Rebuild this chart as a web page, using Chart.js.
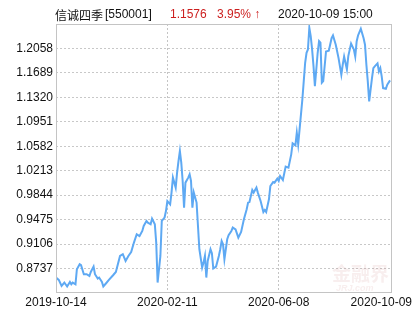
<!DOCTYPE html>
<html>
<head>
<meta charset="utf-8">
<script src="https://cdn.jsdelivr.net/npm/chart.js@4.4.0/dist/chart.umd.min.js"></script>
<style>
  html, body { margin: 0; padding: 0; background: #fff; }
  canvas { display: block; }
</style>
</head>
<body>
<canvas id="chart" width="415" height="330"></canvas>
<script>
// trading-day index since 2019-10-14 and unit NAV
const dayIndex = [0, 2, 4, 6, 8, 10, 11, 12, 14, 15, 17, 18, 20, 22, 24, 25, 27, 28, 30, 31,
  33, 34, 36, 38, 41, 43, 46, 48, 50, 52, 54, 56, 58, 60, 62, 63, 65, 66, 68, 69,
  71, 72, 73, 75, 76, 78, 79, 80, 82, 83, 84, 86, 87, 88, 89, 90, 91, 92, 93, 95,
  96, 97, 98, 99, 101, 102, 103, 105, 106, 107, 108, 109, 111, 112, 113, 115, 117, 118, 119, 120,
  121, 123, 124, 126, 127, 129, 131, 133, 135, 137, 138, 139, 141, 142, 144, 145, 147, 149, 150, 151,
  153, 154, 156, 157, 159, 160, 161, 163, 164, 165, 167, 169, 170, 172, 173, 174, 175, 177, 178, 179,
  180, 181, 182, 183, 184, 185, 186, 187, 188, 189, 190, 191, 192, 194, 196, 198, 199, 201, 203, 205,
  206, 207, 209, 210, 212, 214, 215, 216, 217, 219, 221, 222, 223, 224, 225, 227, 228, 229, 231, 232,
  233, 234, 235, 237, 238, 240];
const navValues = [0.8601, 0.8565, 0.8475, 0.8526, 0.8466, 0.8535, 0.8500, 0.8526, 0.8500, 0.8726,
  0.8802, 0.8787, 0.8651, 0.8651, 0.8625, 0.8686, 0.8767, 0.8651, 0.8586, 0.8601,
  0.8535, 0.8466, 0.8515, 0.8565, 0.8636, 0.8686, 0.8927, 0.8953, 0.8852, 0.8927,
  0.8987, 0.9129, 0.9254, 0.9228, 0.9304, 0.9379, 0.9455, 0.9430, 0.9405, 0.9491,
  0.9405, 0.9129, 0.8526, 0.8927, 0.9455, 0.9506, 0.9605, 0.9756, 0.9706, 0.9883,
  1.0109, 0.9958, 1.0184, 1.0359, 1.0510, 1.0335, 1.0058, 0.9657, 1.0033, 1.0109,
  1.0159, 1.0058, 0.9657, 0.9883, 0.9732, 0.9379, 0.9028, 0.8752, 0.8827, 0.8927,
  0.8601, 0.8852, 0.9028, 0.8968, 0.8737, 0.8767, 0.8927, 0.9028, 0.9153, 0.9103,
  0.8877, 0.9179, 0.9239, 0.9304, 0.9355, 0.9329, 0.9204, 0.9289, 0.9480, 0.9631,
  0.9732, 0.9741, 0.9922, 0.9883, 0.9958, 0.9883, 0.9756, 0.9590, 0.9620, 0.9590,
  0.9782, 0.9982, 1.0042, 1.0033, 1.0094, 1.0058, 1.0133, 1.0073, 1.0174, 1.0275,
  1.0260, 1.0460, 1.0626, 1.0596, 1.0787, 1.0611, 1.0837, 1.1289, 1.1565, 1.1842,
  1.1993, 1.2043, 1.2370, 1.2243, 1.2043, 1.1791, 1.1490, 1.1741, 1.1993, 1.2168,
  1.2144, 1.1541, 1.1565, 1.2013, 1.2023, 1.2213, 1.2254, 1.2114, 1.1912, 1.1662,
  1.1812, 1.1937, 1.1741, 1.1942, 1.2133, 1.2043, 1.1937, 1.2164, 1.2254, 1.2355,
  1.2213, 1.2114, 1.1812, 1.1561, 1.1259, 1.1606, 1.1761, 1.1787, 1.1832, 1.1711,
  1.1761, 1.1636, 1.1460, 1.1450, 1.1511, 1.1576];

const tickDays = [0, 80, 160, 240];
const tickLabels = ['2019-10-14', '2020-02-11', '2020-06-08', '2020-10-09'];
const yTickValues = [0.8737, 0.9106, 0.9475, 0.9844, 1.0213, 1.0582, 1.0951, 1.1320, 1.1689, 1.2058];

const FONT = '"Liberation Sans", "Noto Sans CJK SC", sans-serif';

const framePlugin = {
  id: 'frame',
  beforeDatasetsDraw(chart) {
    const { ctx, chartArea: a } = chart;
    ctx.save();
    // watermark
    ctx.fillStyle = 'rgba(200, 120, 120, 0.13)';
    ctx.font = 'bold 19px "Noto Sans CJK SC", sans-serif';
    ctx.textAlign = 'left';
    ctx.textBaseline = 'alphabetic';
    ctx.fillText('金融界', a.right - 60, a.bottom - 12);
    ctx.font = 'italic bold 9px ' + FONT;
    ctx.fillText('JRJ.com', a.right - 56, a.bottom - 2);
    ctx.restore();
  },
  afterDraw(chart) {
    const { ctx, chartArea: a } = chart;
    ctx.save();
    ctx.strokeStyle = '#c4c4c4';
    ctx.lineWidth = 1;
    ctx.strokeRect(Math.round(a.left) + 0.5, Math.round(a.top) + 0.5,
      Math.round(a.right - a.left) - 1, Math.round(a.bottom - a.top) - 1);

    // x labels from the x scale
    const xs = chart.scales.x;
    ctx.fillStyle = '#111';
    ctx.font = '12px ' + FONT;
    ctx.textBaseline = 'middle';
    tickDays.forEach((d, i) => {
      let px = xs.getPixelForValue(d);
      ctx.textAlign = 'center';
      const w = ctx.measureText(tickLabels[i]).width;
      if (px + w / 2 > chart.width - 3) px = chart.width - 3 - w / 2;
      ctx.fillText(tickLabels[i], px, a.bottom + 10);
    });

    // header line
    ctx.textAlign = 'left';
    ctx.textBaseline = 'middle';
    ctx.fillStyle = '#111';
    ctx.font = '12px "Noto Sans CJK SC", sans-serif';
    ctx.fillText('信诚四季', 55, 15);
    ctx.font = '12px ' + FONT;
    ctx.fillText('[550001]', 105, 15);
    ctx.fillStyle = '#cc1f1f';
    ctx.fillText('1.1576', 170, 15);
    ctx.fillText('3.95% ↑', 217, 15);
    ctx.fillStyle = '#111';
    ctx.fillText('2020-10-09 15:00', 278, 15);
    ctx.restore();
  }
};

new Chart(document.getElementById('chart').getContext('2d'), {
  type: 'line',
  data: {
    datasets: [{
      data: dayIndex.map((d, i) => ({ x: d, y: navValues[i] })),
      borderColor: '#5ea9f3',
      borderWidth: 2,
      pointRadius: 0,
      tension: 0,
      fill: false
    }]
  },
  options: {
    responsive: false,
    animation: false,
    layout: { padding: { left: 0, top: 24, right: 23, bottom: 37 } },
    plugins: { legend: { display: false }, tooltip: { enabled: false } },
    scales: {
      x: {
        type: 'linear',
        min: 0,
        max: 241.4,
        afterBuildTicks: (scale) => { scale.ticks = tickDays.map(v => ({ value: v })); },
        afterFit: (scale) => { scale.height = 0; },
        ticks: { display: false },
        border: { display: false, dash: [2, 2] },
        grid: {
          drawTicks: false,
          color: (c) => (c.index === 1 || c.index === 2) ? '#c4c4c4' : 'rgba(0,0,0,0)'
        }
      },
      y: {
        min: 0.8368,
        max: 1.2427,
        afterBuildTicks: (scale) => { scale.ticks = yTickValues.map(v => ({ value: v })); },
        afterFit: (scale) => { scale.width = 56; },
        ticks: {
          padding: 3,
          color: '#111',
          font: { family: FONT, size: 12 },
          callback: (v) => v.toFixed(4)
        },
        border: { display: false, dash: [2, 2] },
        grid: { drawTicks: false, color: '#c8c8c8' }
      }
    }
  },
  plugins: [framePlugin]
});
</script>
</body>
</html>
